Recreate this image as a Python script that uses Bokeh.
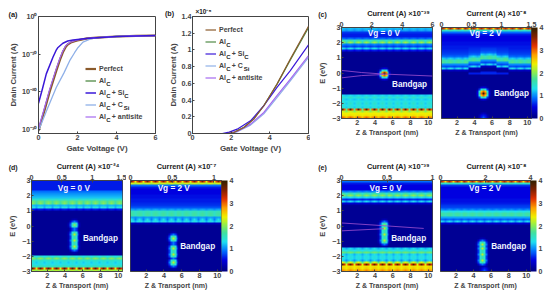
import numpy as np
from bokeh.plotting import figure
from bokeh.layouts import row, column
from bokeh.embed import file_html
from bokeh.resources import INLINE
from bokeh.models import (Range1d, LinearAxis, FixedTicker, Label, Legend, LegendItem,
                          LinearColorMapper, ColorBar, CustomJSTickFormatter)

FONT = "Liberation Sans"
names = ["Perfect", "Al  ", "Al   + Si  ", "Al   + C   ", "Al   + antisite"]
colors = ["#8a5a2c", "#4f8a45", "#3a18d8", "#8fb0e8", "#a468f0"]

# (a) log10 of drain current (decades below 1 A)
a_v_perfect = [0, .3, .57, .91, 1.1, 1.25, 1.4, 1.5, 1.7, 1.94, 2.5, 3, 4, 5, 6]
a_d_perfect = [30.3, 25, 20, 14.4, 11.5, 9.5, 8.0, 7.4, 6.8, 6.4, 5.8, 5.6, 5.3, 5.15, 5.05]
a_v_alc = [0, .3, .57, .91, 1.1, 1.25, 1.4, 1.5, 1.7, 1.94, 2.5, 3, 4, 5, 6]
a_d_alc = [30.0, 24.8, 19.8, 14.2, 11.3, 9.3, 7.9, 7.3, 6.7, 6.4, 5.8, 5.6, 5.3, 5.15, 5.05]
a_v_si = [0, .2, .4, .74, .9, 1.0, 1.25, 1.5, 1.77, 2.45, 3, 4, 5, 6]
a_d_si = [23.0, 19.2, 15.2, 10.8, 9.0, 8.2, 7.1, 6.5, 6.2, 5.8, 5.6, 5.3, 5.15, 5.05]
a_v_csi = [0, .45, .91, 1.3, 1.6, 1.85, 2.03, 2.28, 2.7, 3, 4, 5, 6]
a_d_csi = [30.3, 24.5, 18.8, 15.0, 11.7, 9.6, 8.2, 6.8, 5.9, 5.6, 5.3, 5.15, 5.05]
a_v_anti = [0, .3, .57, .91, 1.1, 1.25, 1.4, 1.6, 1.94, 2.5, 3, 4, 5, 6]
a_d_anti = [29.6, 24.3, 19.3, 13.8, 11.0, 9.1, 7.7, 6.9, 6.3, 5.8, 5.6, 5.3, 5.15, 5.05]

# (b) drain current in units of 1e-5 A
b_v_perfect = [0, 1.8, 2.14, 2.66, 3.17, 3.69, 4.37, 5.06, 6]
b_i_perfect = [0, 0, .012, .072, .172, .332, .592, .892, 1.284]
b_v_alc = [0, 1.8, 2.14, 2.66, 3.17, 3.69, 4.37, 5.06, 6]
b_i_alc = [0, 0, .014, .075, .175, .335, .588, .880, 1.265]
b_v_si = [0, 1.54, 1.9, 2.31, 3, 3.69, 4.37, 5.06, 6]
b_i_si = [0, 0, .016, .052, .152, .332, .552, .752, 1.06]
b_v_csi = [0, 1.8, 2.31, 3, 3.69, 4.37, 5.06, 6]
b_i_csi = [0, 0, .020, .100, .235, .430, .630, .910]
b_v_anti = [0, 1.7, 2.31, 3, 3.69, 4.37, 5.06, 6]
b_i_anti = [0, 0, .024, .112, .252, .452, .652, .932]

# Heat maps: per energy row (top E=3 to bottom E=-3) troughs and peaks in colour-bar units
c1_low = [1.1, 1.0, .7, .6, .6, .8, 1.4, 1.6, .9, .7, 1.0, .5, .14, .1, .1, .1] + [.1] * 18 + [1.2, 1.3, 1.2, 1.3, 1.2, 1.3, 1.2, 1.7, 2.0, 2.4, 2.4, 2.6]
c1_high = [1.2, 1.1, .7, .6, .6, .9, 1.7, 2.1, 1.0, .8, 1.35, .6, .14, .1, .1, .1] + [.1] * 18 + [1.3, 1.5, 1.3, 1.4, 1.5, 1.4, 1.5, 3.8, 2.3, 2.4, 2.5, 3.0]
c2_low = [2.4, 1.4, .9, .6, .5, .5, .5, .55, .55, .6, .6, .65, .7, .75, .85, 1.1, 1.5, 1.6, 1.0, .75, 1.0, .3] + [.12] * 24
c2_high = [3.4, 1.6, .9, .6, .5, .5, .5, .55, .55, .6, .6, .65, .7, .75, .9, 1.25, 1.7, 1.75, 1.0, .8, 1.35, .35] + [.12] * 24
d1_low = [.6, .6, .6, .6, .6, .9, 1.0, 1.1, 1.2, 1.4, 1.7, 1.6, 1.1, 1.1, .5, .14] + [.12] * 22 + [1.3, 1.7, 1.4, 1.2, 1.3, 1.5, 2.2, 2.0]
d1_high = [.6, .6, .6, .6, .6, .9, 1.0, 1.1, 1.2, 1.5, 1.9, 2.0, 1.2, 1.45, .6, .14] + [.12] * 22 + [1.5, 2.0, 1.5, 1.4, 1.4, 1.6, 3.8, 2.2]
d2_low = [2.3, 2.1, .9, .6, .5, .5, .5, .55, .55, .6, .6, .65, .7, .8, 1.0, 1.5, 1.5, 1.5, 1.0, .9, 1.1, .3] + [.12] * 24
d2_high = [3.6, 2.3, .9, .6, .5, .5, .5, .55, .55, .6, .6, .65, .7, .8, 1.1, 1.6, 1.7, 1.7, 1.1, 1.3, 1.4, .35] + [.12] * 24
e1_low = [.9, .6, .5, .5, .5, .9, 1.4, 1.7, 1.2, .6, 1.0, .4, .14] + [.12] * 21 + [1.1, 1.3, 1.7, 1.1, 1.2, 1.2, 1.0, 1.7, 2.2, 2.4, 2.4, 2.6]
e1_high = [.9, .6, .5, .5, .5, 1.0, 1.7, 2.0, 1.3, .7, 1.3, .45, .14] + [.12] * 21 + [1.3, 1.45, 1.9, 1.35, 1.4, 1.4, 1.3, 2.4, 3.8, 2.5, 2.6, 2.9]
e2_low = [2.4, 1.4, .7, .5, .5, .5, .5, .5, .5, .55, .55, .6, .7, .75, .9, 1.3, 1.55, 1.5, 1.1, .8, 1.0, .4] + [.12] * 24
e2_high = [3.4, 1.6, .7, .5, .5, .5, .5, .5, .5, .55, .55, .6, .7, .75, 1.0, 1.4, 1.7, 1.7, 1.1, .9, 1.3, .45] + [.12] * 24
ripple = [1.0, .65, .1, .65]
c2_wave = [0] * 14 + [1] * 6 + [2] * 8 + [1] * 6 + [0] * 12

# Localized defect states: z (nm), E (eV), strength
c1_z, c1_e, c1_s = [5.0], [0.0], [1.0]
c2_z, c2_e, c2_s = [5.1, 5.1], [-1.35, -2.98], [1.0, .2]
d1_z, d1_e, d1_s = [5.0, 5.0, 5.0, 5.0], [.02, -.6, -.93, -1.41], [.55, .55, .55, .55]
d2_z, d2_e, d2_s = [5.1, 5.1, 5.1, 5.1], [-.91, -1.53, -1.9, -2.41], [.55, .55, .55, .55]
e1_z, e1_e, e1_s = [5.0, 5.0, 5.0, 5.0], [.09, -.2, -.53, -.97], [.55, .55, .55, .55]
e2_z, e2_e, e2_s = [5.1, 5.1, 5.1, 5.1, 5.3], [-1.3, -1.53, -1.9, -2.34, -2.98], [.55, .55, .55, .55, .2]
stamp = np.array([[.1, .2, .4, .5, .4, .2, .1],
                  [.2, .7, 1.3, 1.7, 1.3, .7, .2],
                  [.4, 1.3, 2.6, 3.0, 2.6, 1.3, .4],
                  [.5, 1.7, 3.0, 4.0, 3.0, 1.7, .5],
                  [.4, 1.3, 2.6, 3.0, 2.6, 1.3, .4],
                  [.2, .7, 1.3, 1.7, 1.3, .7, .2],
                  [.1, .2, .4, .5, .4, .2, .1]])

# Hole-band traces visible in the maps
c1_line_z = [[.23, 2.5, 5.0, 10.49], [.23, 2.5, 5.0]]
c1_line_e = [[.17, .03, -.07, -.2], [-.32, -.17, -.1]]
e1_line_z = [[.23, 5.0, 9.5], [.23, 5.0]]
e1_line_e = [[.2, .02, -.16], [-.32, -.18]]

stops_v = [0, .5, .9, 1.3, 1.7, 2.1, 2.4, 2.8, 3.2, 3.6, 4]
stops_c = ["#00007f", "#0000e0", "#0070ff", "#20e0f0", "#40e0a0", "#a0f040", "#f0f000", "#ffa000", "#e03000", "#802000", "#302000"]
rgb = np.array([[int(c[i:i + 2], 16) for i in (1, 3, 5)] for c in stops_c], float)
palette = []
for t in np.linspace(0, 4, 256):
    palette.append("#%02x%02x%02x" % tuple(int(np.interp(t, stops_v, rgb[:, k])) for k in range(3)))
mapper = LinearColorMapper(palette=palette, low=0, high=4)

ZMIN, ZMAX, NC, NR = .23, 10.49, 46, 46
TICK = "7.2px"
frames = {}


def style_axis(ax, label_size="7px"):
    ax.major_label_text_font = FONT
    ax.major_label_text_font_style = "bold"
    ax.major_label_text_font_size = TICK
    ax.axis_label_text_font = FONT
    ax.axis_label_text_font_style = "bold"
    ax.axis_label_text_font_size = label_size
    ax.major_tick_in = 2
    ax.major_tick_out = 0
    ax.minor_tick_in = 0
    ax.minor_tick_out = 0
    ax.axis_line_color = "#444444"
    ax.major_tick_line_color = "#444444"
    ax.major_label_standoff = 1


def tag(p, text, x, y, size="6px", color="#222222"):
    """Text inside the frame: x, y are page pixels."""
    fl, fb = frames[p.id]
    p.add_layout(Label(x=x - fl, y=fb - y, x_units="screen", y_units="screen", text=text,
                       text_font=FONT, text_font_style="bold", text_font_size=size,
                       text_color=color, text_baseline="middle", text_align="center"))


def above(p, text, x, y, size="7.4px", color="#222222"):
    """Text in the top panel (not clipped to the frame): offsets count from that panel's slot."""
    p.add_layout(Label(x=x, y=y, x_units="screen", y_units="screen", text=text,
                       text_font=FONT, text_font_style="bold", text_font_size=size,
                       text_color=color, text_baseline="middle", text_align="center"), "above")


def base_fig(fig_x, fig_y, l, fw, r, t, fh, b, **kw):
    p = figure(frame_width=fw, frame_height=fh, min_border_left=l, min_border_right=r, min_border_top=t,
               min_border_bottom=b, frame_align=False, output_backend="svg", toolbar_location=None, **kw)
    frames[p.id] = (fig_x + l, fig_y + t + fh)
    p.grid.visible = False
    p.outline_line_color = "#444444"
    p.background_fill_color = None
    p.border_fill_color = None
    return p


def add_legend(p, rends, x, y):
    items = [LegendItem(label=n, renderers=[r]) for n, r in zip(names, rends)]
    leg = Legend(items=items, location=(x, y), padding=0, margin=0, spacing=1, label_height=11,
                 glyph_height=11, glyph_width=11, label_standoff=3, border_line_color=None,
                 background_fill_color=None, label_text_font=FONT, label_text_font_style="bold",
                 label_text_font_size="7px")
    p.add_layout(leg)


def heat(fig_x, fig_y, l, fw, r, t, fh, b, low, high, dz, de, ds, top_max, top_ticks, left, wave=None, bar=False, texts=None):
    p = base_fig(fig_x, fig_y, l, fw, r, t, fh, b, x_range=Range1d(ZMIN, ZMAX), y_range=Range1d(-3, 3))
    low, high = np.array(low, float), np.array(high, float)
    rp = np.array([ripple[c % 4] for c in range(NC)])
    m = low[:, None] + (high - low)[:, None] * rp[None, :]
    if wave is not None:
        for c, s in enumerate(wave):
            if s:
                m[10:24, c] = np.roll(m[10:24, c], -s)
    for z, e, s in zip(dz, de, ds):
        cc = int((z - ZMIN) / (ZMAX - ZMIN) * NC)
        rr = int((3 - e) / 6 * NR)
        for i in range(7):
            for j in range(7):
                a, bb = rr + i - 3, cc + j - 3
                if 0 <= a < NR and 0 <= bb < NC:
                    m[a, bb] = max(m[a, bb], stamp[i, j] * s)
    p.image(image=[np.flipud(m)], x=ZMIN, y=-3, dw=ZMAX - ZMIN, dh=6, color_mapper=mapper)
    p.xaxis.ticker = FixedTicker(ticks=[2, 4, 6, 8, 10])
    p.xaxis.axis_label = "Z & Transport (nm)"
    p.xaxis.axis_label_standoff = 1
    style_axis(p.xaxis[0])
    if left:
        p.yaxis.ticker = FixedTicker(ticks=[-3, -2, -1, 0, 1, 2, 3])
        p.yaxis.axis_label = "E (eV)"
        p.yaxis.axis_label_standoff = 2
        style_axis(p.yaxis[0], "7.5px")
    else:
        p.yaxis.visible = False
    p.extra_x_ranges = {"cur": Range1d(0, top_max)}
    ax = LinearAxis(x_range_name="cur", ticker=FixedTicker(ticks=top_ticks))
    style_axis(ax)
    p.add_layout(ax, "above")
    if bar:
        cb = ColorBar(color_mapper=mapper, ticker=FixedTicker(ticks=[0, 1, 2, 3, 4]), width=6,
                      padding=0, margin=2, major_tick_line_color=None, major_label_text_font=FONT,
                      major_label_text_font_style="bold", major_label_text_font_size="7px",
                      label_standoff=2, bar_line_color=None, background_fill_color=None, title=None)
        p.add_layout(cb, "right")
    for tx, zz, ee in texts:
        p.text([zz], [ee], text=[tx], text_color="#f0f4ff", text_font_size="8.2px",
               text_font_style="bold", text_font={"value": FONT}, text_align="center",
               text_baseline="middle")
    return p


def curves(p, sets, order):
    rends = [None] * len(sets)
    for k in order:
        v, y, lw = sets[k]
        rends[k] = p.line(v, y, line_color=colors[k], line_width=lw, line_join="round")
    return rends


# Row 1 starts 3 px above the page and row 2 overlaps it by 5 px, to give the top panels room.
R1, R2 = -3, 152

# ---------- (a)
a = base_fig(0, R1, 38, 117, 3, 19, 117, 24, x_range=Range1d(0, 6), y_range=Range1d(1e-31, 1), y_axis_type="log")
sets_a = [(a_v_perfect, 10.0 ** (-np.array(a_d_perfect)), 2.2), (a_v_alc, 10.0 ** (-np.array(a_d_alc)), 1.3),
          (a_v_si, 10.0 ** (-np.array(a_d_si)), 1.5), (a_v_csi, 10.0 ** (-np.array(a_d_csi)), 1.3),
          (a_v_anti, 10.0 ** (-np.array(a_d_anti)), 1.2)]
ra = curves(a, sets_a, [1, 0, 3, 4, 2])
a.xaxis.ticker = FixedTicker(ticks=[0, 2, 4, 6])
a.xaxis.axis_label = "Gate Voltage (V)"
a.xaxis.axis_label_standoff = 1
a.yaxis.ticker = FixedTicker(ticks=[1, 1e-10, 1e-20, 1e-30])
a.yaxis.formatter = CustomJSTickFormatter(code="""
const s = {"0":"⁰","1":"¹","2":"²","3":"³","-":"⁻"};
return "10" + String(Math.round(Math.log10(tick))).split("").map(c => s[c]).join("");""")
a.yaxis.axis_label = "Drain Current (A)"
a.yaxis.axis_label_standoff = 1
style_axis(a.xaxis[0], "8px")
style_axis(a.yaxis[0], "7.8px")
add_legend(a, ra, 47, 11)
above(a, "(a)", 12.5 - 38, 2)
for yy, txt, xx in [(80, "C", 108), (92, "C", 108), (92, "C", 126), (104, "C", 108), (104, "Si", 126), (116, "C", 108)]:
    tag(a, txt, xx, yy + 3)

# ---------- (b)
b = base_fig(158, R1, 34, 116, 2, 19, 117, 24, x_range=Range1d(0, 6), y_range=Range1d(0, 1.4))
sets_b = [(b_v_perfect, b_i_perfect, 1.2), (b_v_alc, b_i_alc, 1.2), (b_v_si, b_i_si, 1.2),
          (b_v_csi, b_i_csi, 1.2), (b_v_anti, b_i_anti, 1.2)]
rb = curves(b, sets_b, [1, 3, 4, 2, 0])
b.xaxis.ticker = FixedTicker(ticks=[0, 2, 4, 6])
b.xaxis.axis_label = "Gate Voltage (V)"
b.xaxis.axis_label_standoff = 1
b.yaxis.ticker = FixedTicker(ticks=[0, .2, .4, .6, .8, 1, 1.2, 1.4])
b.yaxis.axis_label = "Drain Current (A)"
b.yaxis.axis_label_standoff = 1
style_axis(b.xaxis[0], "8px")
style_axis(b.yaxis[0], "7.8px")
add_legend(b, rb, 13, 50)
above(b, "(b)", 169 - 192, 3, size="7.2px")
above(b, "×10⁻⁵", 203 - 192, -3.5, size="6.4px")
for yy, txt, xx in [(41, "C", 228), (53, "C", 228), (53, "C", 246), (65, "C", 228), (65, "Si", 246), (77, "C", 228)]:
    tag(b, txt, xx, yy + 3)

# ---------- heat maps
c1 = heat(310, R1, 31, 91, 4, 30, 91, 39, c1_low, c1_high, c1_z, c1_e, c1_s, 6, [0, 2, 4, 6], True,
          texts=[("Vg = 0 V", 5.0, 2.6), ("Bandgap", 7.9, -.77)])
c2 = heat(436, R1, 5, 90, 19, 30, 91, 39, c2_low, c2_high, c2_z, c2_e, c2_s, 1.5, [0, .5, 1, 1.5], False, wave=c2_wave, bar=True,
          texts=[("Vg = 2 V", 5.25, 2.6), ("Bandgap", 8.2, -1.37)])
d1 = heat(0, R2, 31, 91, 4, 28, 91, 28, d1_low, d1_high, d1_z, d1_e, d1_s, 1.5, [0, .5, 1, 1.5], True,
          texts=[("Vg = 0 V", 5.0, 2.5), ("Bandgap", 8.0, -.8)])
d2 = heat(126, R2, 4, 91, 17, 28, 91, 28, d2_low, d2_high, d2_z, d2_e, d2_s, 1.09, [0, .5, 1], False, bar=True,
          texts=[("Vg = 2 V", 5.1, 2.5), ("Bandgap", 7.8, -1.37)])
e1 = heat(238, R2, 103, 91, 3, 28, 91, 28, e1_low, e1_high, e1_z, e1_e, e1_s, 1, [0, .5, 1], True,
          texts=[("Vg = 0 V", 5.2, 2.5), ("Bandgap", 7.8, -.8)])
e2 = heat(435, R2, 5, 90, 20, 28, 91, 28, e2_low, e2_high, e2_z, e2_e, e2_s, 4, [0, 2, 4], False, bar=True,
          texts=[("Vg = 2 V", 5.3, 2.5), ("Bandgap", 8.0, -1.37)])
for zz, ee in zip(c1_line_z, c1_line_e):
    c1.line(zz, ee, line_color="#a050d0", line_width=1, line_alpha=.8)
for zz, ee in zip(e1_line_z, e1_line_e):
    e1.line(zz, ee, line_color="#a050d0", line_width=1, line_alpha=.8)

above(c1, "Current (A) ×10⁻³⁹", 398 - 341, 5)
above(c1, "(c)", 322 - 341, -4.5, size="7px")
above(c2, "Current (A)  ×10⁻⁸", 497 - 441, 5)
above(d1, "Current (A) ×10⁻²⁴", 87.5 - 31, 5)
above(d1, "(d)", 12.7 - 31, -4.5, size="7px")
above(d2, "Current (A)  ×10⁻⁷", 187 - 130, 5)
above(e1, "Current (A) ×10⁻³⁹", 397.7 - 341, 5)
above(e1, "(e)", 322 - 341, -4.5, size="7px")
above(e2, "Current (A)  ×10⁻⁸", 497 - 440, 5)

page = column(row(a, b, c1, c2, margin=(R1, 0, 0, 0)), row(d1, d2, e1, e2, margin=(-5, 0, 0, 0)))
open("out.html", "w").write(file_html(page, INLINE))
